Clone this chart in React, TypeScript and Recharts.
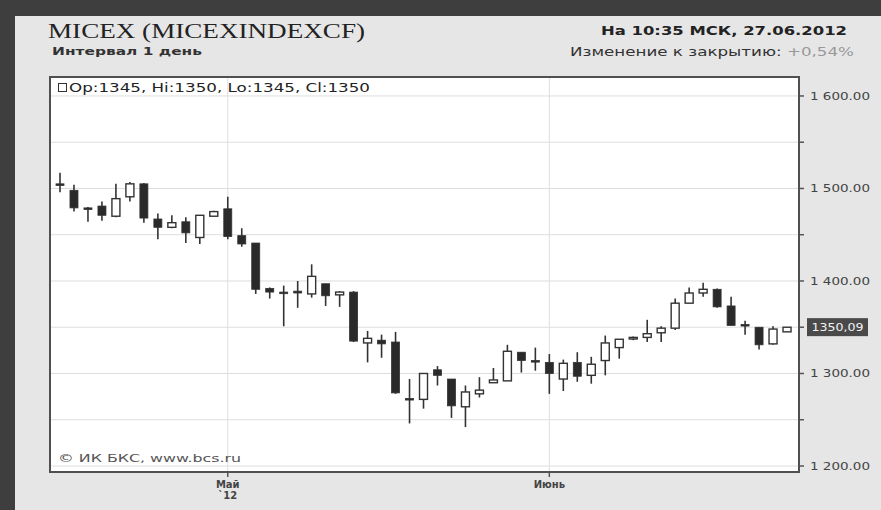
import React from 'react';
import { ComposedChart, Bar, XAxis, YAxis, CartesianGrid, ReferenceLine } from 'recharts';

// trading days, 13.04.2012 - 27.06.2012
const dates = [
    '13.04', '16.04', '17.04', '18.04', '19.04', '20.04', '23.04', '24.04', '25.04', '26.04', '27.04', '28.04',
    '02.05', '03.05', '04.05', '05.05', '07.05', '08.05', '10.05', '11.05', '12.05', '14.05', '15.05', '16.05',
    '17.05', '18.05', '21.05', '22.05', '23.05', '24.05', '25.05', '28.05', '29.05', '30.05', '31.05',
    '01.06', '04.06', '05.06', '06.06', '07.06', '08.06', '09.06', '13.06', '14.06', '15.06', '18.06', '19.06',
    '20.06', '21.06', '22.06', '25.06', '26.06', '27.06',
];
const opens = [
    1505, 1498, 1479, 1481, 1470, 1491, 1505, 1467, 1458, 1464, 1447, 1470,
    1478, 1449, 1441, 1392, 1388, 1389, 1386, 1397, 1385, 1388, 1333, 1336,
    1334, 1273, 1272, 1304, 1294, 1264, 1278, 1290, 1292, 1323, 1314,
    1312, 1294, 1312, 1298, 1314, 1328, 1338, 1339, 1344, 1349, 1376, 1387,
    1391, 1373, 1353, 1350, 1332, 1345,
];
const highs = [
    1517, 1504, 1480, 1486, 1505, 1507, 1506, 1473, 1471, 1469, 1471, 1476,
    1491, 1457, 1441, 1393, 1395, 1400, 1418, 1397, 1389, 1389, 1346, 1342,
    1345, 1294, 1300, 1308, 1294, 1287, 1296, 1306, 1331, 1323, 1328,
    1321, 1315, 1323, 1318, 1341, 1337, 1340, 1358, 1351, 1381, 1393, 1398,
    1392, 1383, 1357, 1350, 1351, 1350,
];
const lows = [
    1496, 1475, 1464, 1465, 1469, 1486, 1463, 1445, 1457, 1441, 1440, 1470,
    1445, 1437, 1386, 1381, 1351, 1371, 1382, 1373, 1372, 1334, 1312, 1317,
    1278, 1246, 1262, 1287, 1252, 1242, 1274, 1290, 1292, 1301, 1303,
    1278, 1281, 1291, 1289, 1298, 1316, 1336, 1334, 1334, 1347, 1376, 1383,
    1371, 1352, 1342, 1326, 1331, 1345,
];
const closes = [
    1504, 1479, 1478, 1471, 1489, 1505, 1468, 1458, 1463, 1452, 1471, 1475,
    1448, 1440, 1391, 1388, 1387, 1387, 1405, 1384, 1388, 1335, 1338, 1332,
    1279, 1272, 1300, 1298, 1265, 1280, 1282, 1293, 1324, 1314, 1313,
    1300, 1311, 1297, 1310, 1333, 1337, 1339, 1343, 1349, 1376, 1387, 1391,
    1372, 1352, 1352, 1331, 1348, 1350,
];
const yTicks = [1200, 1250, 1300, 1350, 1400, 1450, 1500, 1550, 1600];
const monthMarks = [
    { date: '02.05', label: 'Май', sub: '`12' },
    { date: '01.06', label: 'Июнь', sub: '' },
];
const lastPrice = 1350.09;

const data = dates.map((d, i) => ({
    date: d,
    open: opens[i],
    high: highs[i],
    low: lows[i],
    close: closes[i],
    range: [lows[i], highs[i]],
}));

const INK = '#333';
const FONT = '"DejaVu Sans", Verdana, sans-serif';

/* Candle drawn from the [low, high] bar */
const Candle = (props: any) => {
    const { x, y, width, height, payload } = props;
    if (x == null || y == null) return null;
    const { open, close, high, low } = payload;
    const top = Math.min(y, y + height);
    const h = Math.abs(height);
    const px = (v: number) => (high === low ? top : top + ((high - v) / (high - low)) * h);
    const cx = x + width / 2;
    const bTop = px(Math.max(open, close));
    const bBot = px(Math.min(open, close));
    const up = close > open;
    const bh = Math.max(bBot - bTop, 1.6);
    return (
        <g>
            <line x1={cx} x2={cx} y1={top} y2={top + h} stroke={INK} strokeWidth={1.6} />
            <rect x={cx - 4} y={bTop} width={8} height={bh}
                fill={up ? '#fff' : '#2a2a2a'} stroke={INK} strokeWidth={up ? 1.4 : 0.8} />
        </g>
    );
};

const YTick = (props: any) => {
    const { x, y, payload } = props;
    const v = payload.value;
    if (v % 100 !== 0) return null;
    const label = `${Math.floor(v / 1000)} ${String(v % 1000).padStart(3, '0')}.00`;
    return (
        <text x={x} y={y + 4} fontFamily={FONT} fontSize={11} fill="#444"
            textLength={60} lengthAdjust="spacingAndGlyphs">{label}</text>
    );
};

const XTick = (props: any) => {
    const { x, y, payload } = props;
    const m = monthMarks.find(mm => mm.date === payload.value);
    if (!m) return null;
    return (
        <g>
            <line x1={x} x2={x} y1={y} y2={y + 5} stroke="#555" strokeWidth={1.5} />
            <text x={x} y={y + 16} textAnchor="middle" fontFamily={FONT} fontSize={10}
                fontWeight="bold" fill="#444">{m.label}</text>
            {m.sub && (
                <text x={x} y={y + 27} textAnchor="middle" fontFamily={FONT} fontSize={10}
                    fontWeight="bold" fill="#444">{m.sub}</text>
            )}
        </g>
    );
};

const PriceLabel = (props: any) => {
    const vb = props.viewBox;
    if (!vb) return null;
    const bx = vb.x + vb.width + 8;
    return (
        <g>
            <rect x={bx} y={vb.y - 9} width={61} height={18} fill="#4a4a4a" />
            <text x={bx + 30.5} y={vb.y + 4} textAnchor="middle" fontFamily={FONT} fontSize={11}
                fill="#f2f2f2" textLength={52} lengthAdjust="spacingAndGlyphs">
                {lastPrice.toFixed(2).replace('.', ',')}
            </text>
        </g>
    );
};

export default function App() {
    return (
        <div style={{ position: 'absolute', left: 0, top: 0, width: 881, height: 510, background: '#e6e6e6', overflow: 'hidden' }}>
            <div style={{ position: 'absolute', left: 0, top: 0, width: 881, height: 16, background: '#3e3e3e' }} />
            <div style={{ position: 'absolute', left: 0, top: 0, width: 15, height: 510, background: '#3e3e3e' }} />

            <div style={{ position: 'absolute', left: 0, top: 0 }}>
                <ComposedChart width={881} height={510} data={data}
                    margin={{ top: 77, right: 0, left: 50, bottom: 0 }}>
                    <CartesianGrid vertical={false} stroke="#dedede" fill="#ffffff" />
                    {monthMarks.map(m => (
                        <ReferenceLine key={m.date} x={m.date} stroke="#dedede" {...({ zIndex: -50 } as any)} />
                    ))}
                    <XAxis dataKey="date" interval={0} padding={{ left: 3, right: 5 }} height={38}
                        axisLine={false} tickLine={false} tickSize={0} tickMargin={0} tick={<XTick />} />
                    <YAxis orientation="right" type="number" domain={[1193.5, 1620.5]} allowDataOverflow
                        ticks={yTicks} width={82} axisLine={false} tickSize={5} tickMargin={6}
                        tickLine={{ stroke: '#555', strokeWidth: 1.5 }} tick={<YTick />} />
                    <Bar dataKey="range" barSize={8} shape={<Candle />} isAnimationActive={false} />
                    <ReferenceLine y={lastPrice} stroke="none" label={<PriceLabel />} />
                </ComposedChart>
            </div>

            <svg width={881} height={510} style={{ position: 'absolute', left: 0, top: 0, pointerEvents: 'none' }}>
                <rect x={50} y={77} width={749} height={395} fill="none" stroke="#505050" strokeWidth={2} />

                <text x={48} y={38} fontFamily='"Liberation Serif", serif' fontSize={20} fill="#222"
                    textLength={317} lengthAdjust="spacingAndGlyphs">MICEX (MICEXINDEXCF)</text>
                <text x={52} y={55} fontFamily={FONT} fontSize={10.5} fontWeight="bold" fill="#333"
                    textLength={150} lengthAdjust="spacingAndGlyphs">Интервал 1 день</text>

                <text x={847} y={35} textAnchor="end" fontFamily={FONT} fontSize={13} fontWeight="bold" fill="#222"
                    textLength={246} lengthAdjust="spacingAndGlyphs">На 10:35 МСК, 27.06.2012</text>
                <text x={854} y={56} textAnchor="end" fontFamily={FONT} fontSize={12} fill="#333"
                    textLength={284} lengthAdjust="spacingAndGlyphs">
                    Изменение к закрытию: <tspan fill="#999">+0,54%</tspan>
                </text>

                <rect x={58.5} y={83.5} width={8} height={8} fill="#fff" stroke="#333" strokeWidth={1} />
                <text x={69} y={92} fontFamily={FONT} fontSize={12.5} fill="#222"
                    textLength={301} lengthAdjust="spacingAndGlyphs">Op:1345, Hi:1350, Lo:1345, Cl:1350</text>

                <text x={58} y={462} fontFamily={FONT} fontSize={11} fill="#555"
                    textLength={183} lengthAdjust="spacingAndGlyphs">© ИК БКС, www.bcs.ru</text>
            </svg>
        </div>
    );
}
